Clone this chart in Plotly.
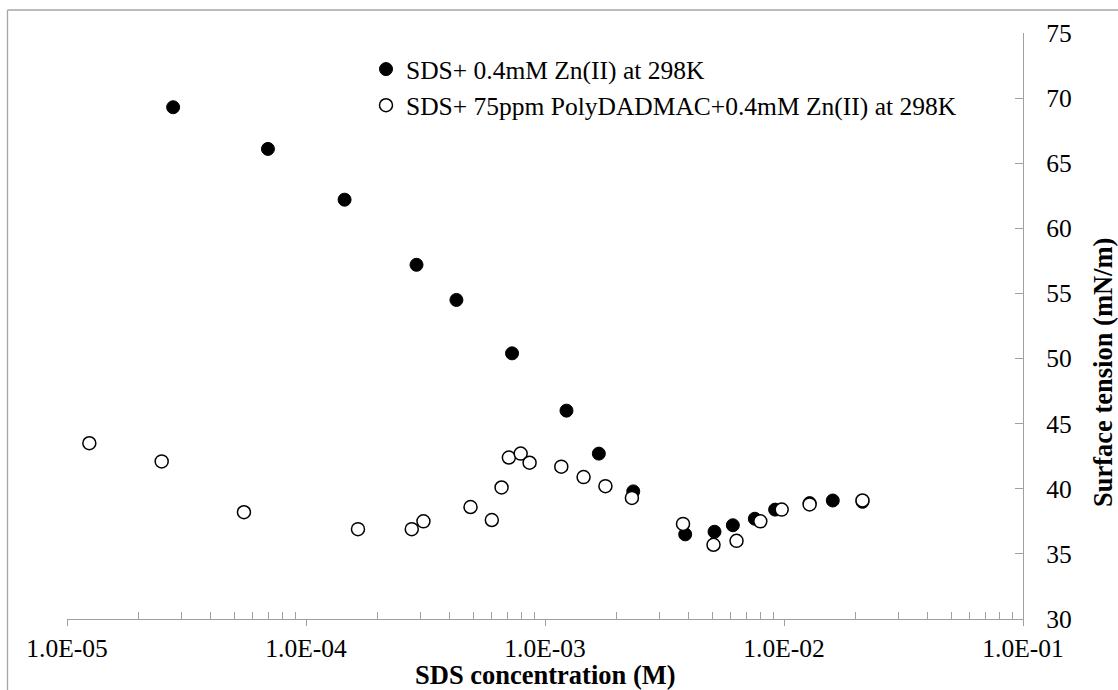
import plotly.graph_objects as go

# ---------------- data ----------------
sds_zn_conc = [2.78e-5, 6.93e-5, 1.45e-4, 2.90e-4, 4.26e-4, 7.28e-4, 1.23e-3, 1.68e-3,
               2.34e-3, 3.86e-3, 5.12e-3, 6.11e-3, 7.55e-3, 9.18e-3, 1.28e-2, 1.60e-2, 2.13e-2]
sds_zn_st = [69.3, 66.1, 62.2, 57.2, 54.5, 50.4, 46.0, 42.7,
             39.8, 36.5, 36.7, 37.2, 37.7, 38.4, 38.9, 39.1, 39.0]

sds_pd_conc = [1.24e-5, 2.49e-5, 5.50e-5, 1.65e-4, 2.77e-4, 3.10e-4, 4.88e-4, 5.99e-4,
               6.58e-4, 7.06e-4, 7.91e-4, 8.62e-4, 1.17e-3, 1.45e-3, 1.79e-3, 2.31e-3,
               3.78e-3, 5.07e-3, 6.33e-3, 7.96e-3, 9.78e-3, 1.28e-2, 2.13e-2]
sds_pd_st = [43.5, 42.1, 38.2, 36.9, 36.9, 37.5, 38.6, 37.6,
             40.1, 42.4, 42.7, 42.0, 41.7, 40.9, 40.2, 39.3,
             37.3, 35.7, 36.0, 37.5, 38.4, 38.8, 39.1]

series_names = ["SDS+ 0.4mM Zn(II) at 298K",
                "SDS+ 75ppm PolyDADMAC+0.4mM Zn(II) at 298K"]
x_tick_vals = [1e-5, 1e-4, 1e-3, 1e-2, 1e-1]
x_tick_text = ["1.0E-05", "1.0E-04", "1.0E-03", "1.0E-02", "1.0E-01"]
y_tick_vals = [30, 35, 40, 45, 50, 55, 60, 65, 70, 75]
x_title = "SDS concentration (M)"
y_title = "Surface tension (mN/m)"

# ---------------- layout geometry ----------------
W, H = 1118, 690
ML, MR, MT, MB = 67, 95, 33, 71
PW, PH = W - ML - MR, H - MT - MB

def px_x(px):
    return (px - ML) / PW

def px_y(py):
    return (H - MB - py) / PH

FONT = "Liberation Serif, Times New Roman, Tinos, DejaVu Serif, serif"
AXIS_GRAY = "#A0A0A0"

minor_vals = [m * 10 ** e for e in range(-5, -1) for m in range(2, 10)]

fig = go.Figure()
fig.add_trace(go.Scatter(
    x=sds_zn_conc, y=sds_zn_st, mode="markers", name=series_names[0],
    marker=dict(symbol="circle", size=13, color="black", line=dict(color="black", width=1)),
))
fig.add_trace(go.Scatter(
    x=sds_pd_conc, y=sds_pd_st, mode="markers", name=series_names[1],
    marker=dict(symbol="circle", size=13, color="white", line=dict(color="black", width=1.5)),
))

fig.update_layout(
    width=W, height=H, autosize=False,
    margin=dict(l=ML, r=MR, t=MT, b=MB, pad=0),
    paper_bgcolor="white", plot_bgcolor="white",
    font=dict(family=FONT, size=25.5, color="black"),
    showlegend=True,
    legend=dict(x=px_x(366), y=px_y(46), xanchor="left", yanchor="top",
                bgcolor="rgba(0,0,0,0)", font=dict(family=FONT, size=25.5, color="black"),
                itemsizing="trace"),
    xaxis=dict(
        type="log", range=[-5, -1], showgrid=False, zeroline=False,
        showline=True, linecolor=AXIS_GRAY, linewidth=1.3,
        tickmode="array", tickvals=x_tick_vals, ticktext=x_tick_text,
        ticks="outside", ticklen=6, tickcolor=AXIS_GRAY, tickwidth=1.3,
        tickfont=dict(family=FONT, size=25.5, color="black"),
        minor=dict(tickmode="array", tickvals=minor_vals, ticks="inside",
                   ticklen=7, tickcolor=AXIS_GRAY, tickwidth=1.3, showgrid=False),
    ),
    xaxis2=dict(
        type="log", range=[-5, -1], overlaying="x", anchor="y", side="bottom",
        showgrid=False, zeroline=False, showline=False, showticklabels=False,
        tickmode="array", tickvals=x_tick_vals,
        ticks="inside", ticklen=6, tickcolor=AXIS_GRAY, tickwidth=1.3,
    ),
    yaxis=dict(
        range=[30, 75], side="right", showgrid=False, zeroline=False,
        showline=True, linecolor=AXIS_GRAY, linewidth=1.3,
        tickmode="array", tickvals=y_tick_vals,
        ticks="inside", ticklen=8, tickcolor=AXIS_GRAY, tickwidth=1.3,
        tickfont=dict(family=FONT, size=25.5, color="black"),
        ticklabelstandoff=17,
    ),
    annotations=[
        dict(text="<b>%s</b>" % x_title, xref="paper", yref="paper",
             x=0.5, y=px_y(675), xanchor="center", yanchor="middle", showarrow=False,
             font=dict(family=FONT, size=26.5, color="black")),
        dict(text="<b>%s</b>" % y_title, xref="paper", yref="paper",
             x=px_x(1103), y=px_y(373), xanchor="center", yanchor="middle", showarrow=False,
             textangle=-90, font=dict(family=FONT, size=26.5, color="black")),
    ],
    shapes=[
        dict(type="line", xref="paper", yref="paper", x0=px_x(7.5), x1=px_x(1200),
             y0=px_y(10), y1=px_y(10), line=dict(color="#A6A6A6", width=1.3)),
        dict(type="line", xref="paper", yref="paper", x0=px_x(7.5), x1=px_x(7.5),
             y0=px_y(10), y1=px_y(760), line=dict(color="#A6A6A6", width=1.3)),
    ],
)

fig.write_html("out.html")
